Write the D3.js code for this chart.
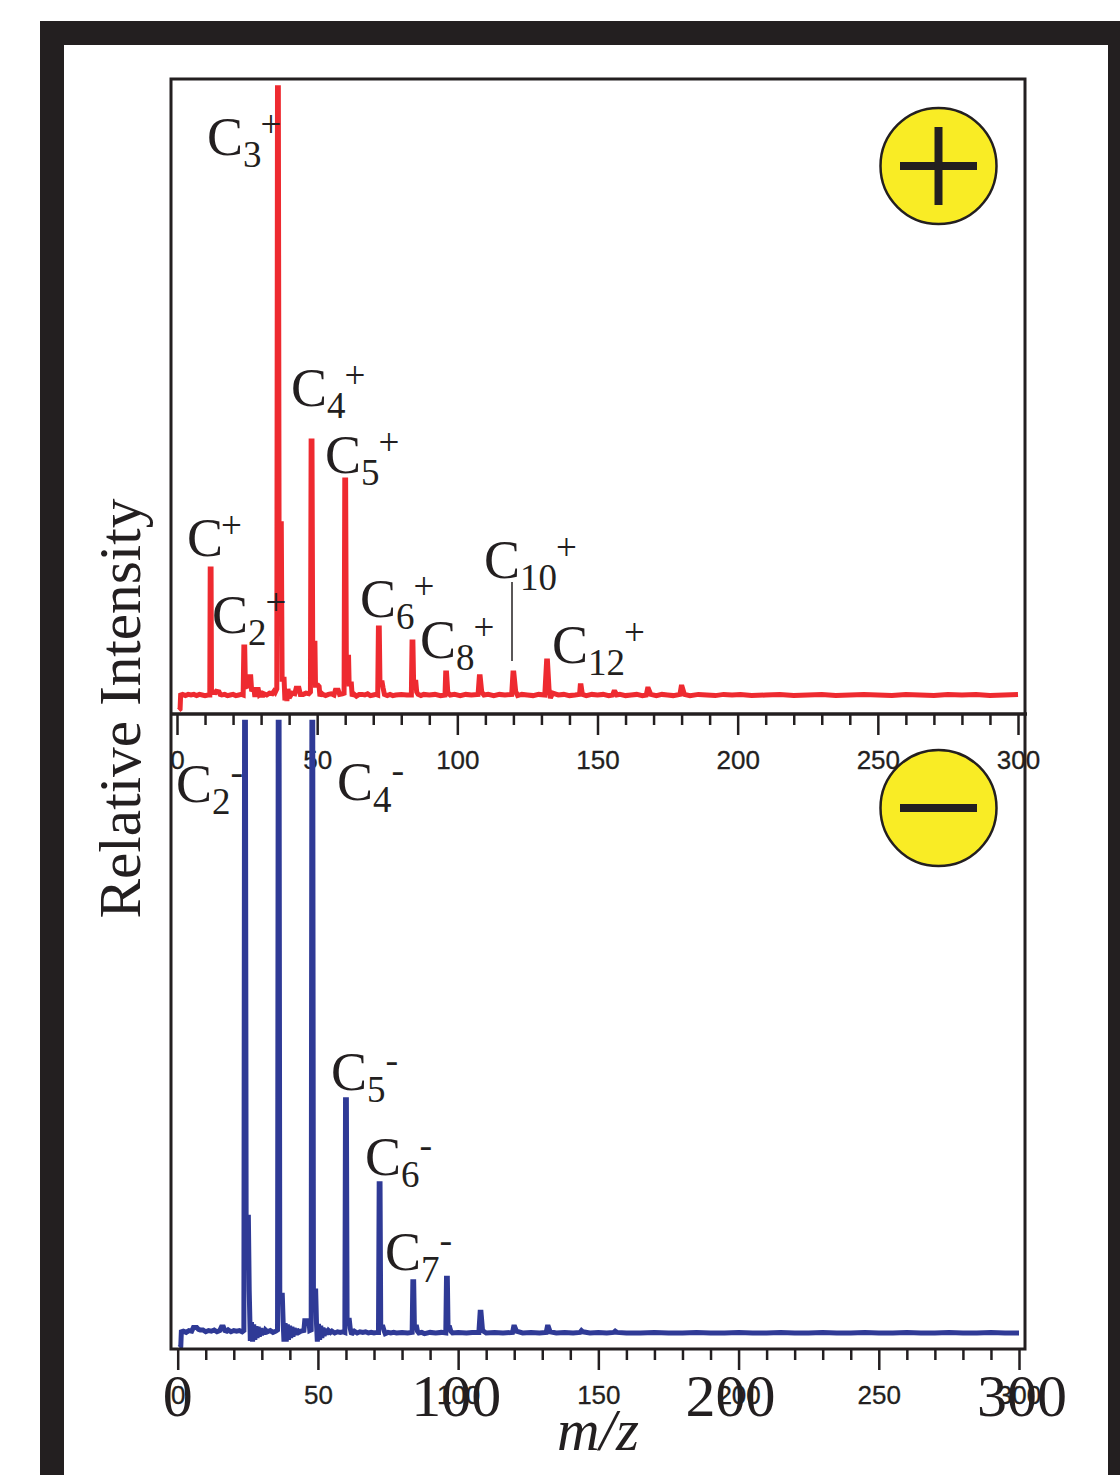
<!DOCTYPE html>
<html lang="en">
  <head>
    <meta charset="utf-8">
    <title>Carbon cluster mass spectra</title>
    <style>
      body { margin: 0; background: #fff; }
      svg { display: block; }
      .tick text { font-family: 'Liberation Sans', sans-serif; font-size: 26px; fill: #231f20; stroke: #231f20; stroke-width: 0.3px; }
      .serif { font-family: 'Liberation Serif', serif; fill: #231f20; }
    </style>
  </head>
  <body>
    <div id="viz"></div>
    <script src="https://d3js.org/d3.v7.min.js"></script>
    <script>
      // positive ion trace: [m/z, relative intensity]
      const posTrace = [
        [0.6,-2.5],[1.1,-2.3],[1.3,0],[2,0.1],[3,-0.1],[4,0.1],[5,0],[6,0.1],[7,-0.1],[8,0.1],[9,0],[10,-0.1],[11,0],[11.7,0],
        [11.85,20.7],[12.15,20.7],[12.3,0.3],[13,0.7],[13.4,0.2],[14,0.6],[15,0.5],[15.4,0.1],[16,0],[17,0.1],[18,-0.1],[19,0],[20,0.1],[21,-0.1],[22,0],[23,0.1],[23.6,0],
        [23.85,7.9],[24.15,7.9],[24.4,1.3],[25.4,1.5],[25.6,3],[26.3,3],[26.6,0.9],[27.5,0.8],[27.8,-0.3],[28.2,0.9],[29,0.9],[29.4,0],[30,0.2],[30.5,-0.3],[31,0.2],[32,0],[33,0.3],[34,0.2],[34.6,0.6],[35,0.4],[35.6,1],
        [35.85,99.7],[36.15,99.7],[36.4,28.1],[37.2,28.1],[37.5,2.6],[38.2,2.6],[38.5,-0.9],[38.9,0.9],[39.2,-1],[39.6,1],[40,-0.5],[41,0.3],[42,0.2],[42.5,1.1],[43.5,1.1],[44,0.1],[45,0.1],[46,0.3],[47,0.2],[47.6,0.5],
        [47.85,41.7],[48.15,41.7],[48.4,8.5],[49.2,8.5],[49.4,1.6],[50.3,1.6],[50.7,1.4],[51,-0.2],[51.5,0.3],[52,0.1],[53,-0.1],[54,0.1],[55,0.2],[56,0],[56.5,0.8],[57.5,0.8],[58,0.1],[59,0.2],[59.6,0.3],
        [59.85,35.3],[60.15,35.3],[60.4,6.2],[61.2,6.2],[61.4,1.8],[62.2,1.8],[62.5,-0.2],[63,0.2],[64,-0.2],[65,0.1],[66,0.1],[67,0],[68,0.2],[69,-0.1],[70,0],[71,0.1],[71.6,0],
        [71.85,11],[72.15,11],[72.4,2],[73.2,2],[73.5,1.2],[74,0.1],[75,-0.1],[76,0.1],[77,-0.1],[78,0],[80,0.1],[82,0],[83.6,0],
        [83.85,8.7],[84.15,8.7],[84.4,2.1],[85.2,2.1],[85.5,0.5],[86,0.1],[87,-0.1],[88,0.1],[90,0],[92,0.1],[94,-0.1],[95.6,0],
        [95.85,3.6],[96.15,3.6],[96.6,0.4],[97.5,0],[99,0.1],[101,-0.1],[103,0.1],[105,0],[107.4,0.1],
        [107.85,3],[108.15,3],[108.7,0.5],[109.5,0],[111,0.1],[113,-0.1],[115,0.1],[117,0],[119.4,0.1],
        [119.85,3.6],[120.15,3.6],[120.8,0.6],[121.5,-0.1],[123,0.1],[125,0],[127,-0.1],[129,0.1],[131.2,0],
        [131.85,5.6],[132.15,5.6],[132.7,1],[133.2,-0.5],[134,0.3],[136,0],[138,0.1],[140,-0.1],[142,0],[143.6,0.1],
        [143.85,1.5],[144.15,1.5],[144.6,0.1],[146,-0.1],[148,0.1],[150,0],[152,0.1],[154,-0.1],[155.4,0],
        [155.8,0.5],[156.3,0.5],[156.9,0],[158,0.1],[160,-0.1],[162,0],[164,0.1],[166,-0.1],[167.4,0],
        [167.85,1],[168.2,1],[169,0.1],[171,-0.1],[173,0.1],[175,0],[177,-0.1],[179.4,0.1],
        [179.85,1.3],[180.2,1.3],[181,0.1],[183,-0.1],[186,0.1],[189,0],[192,-0.1],[195,0.1],[198,0],[201,0.1],[205,-0.1],[210,0],[215,0.1],[220,-0.1],[225,0],[230,0.1],[235,-0.1],[240,0],[245,0.1],[250,0],[255,-0.1],[260,0.1],[265,0],[270,-0.1],[275,0.1],[280,0],[285,0.1],[290,-0.1],[295,0],[300,0.1]
      ];

      // negative ion trace
      const negTrace = [
        [0.6,-2.4],[1.1,-2.2],[1.3,0.2],[2,0.3],[3,0.1],[4,0.4],[5,0.3],[5.6,0.9],[6.8,0.9],[7.4,0.6],[8,0.5],[9,0.5],[10,0.2],[11,0.4],[12,0.3],[13,0.5],[14,0.2],[15,0.4],[15.6,1],[16.3,1],[16.8,0.4],[17.5,0.3],[18,0.5],[19,0.2],[20,0.4],[21,0.3],[22,0.4],[23,0.2],[23.6,0.4],
        [23.85,100.3],[24.15,100.3],[24.4,19],[25.2,19],[25.5,7],[25.9,-1.3],[26.3,1.8],[26.7,-1.4],[27.1,1.4],[27.5,-1.1],[27.9,1.1],[28.3,-0.8],[28.7,1],[29.1,-0.6],[29.5,0.8],[29.9,-0.4],[30.3,0.7],[30.8,-0.2],[31.3,0.5],[32,0.2],[33,0.4],[34,0.1],[35,0.3],[35.6,0.5],
        [35.85,100.3],[36.15,100.3],[36.4,6.2],[37.3,6.2],[37.6,1.8],[37.9,-1.4],[38.3,1.6],[38.7,-1.4],[39.1,1.4],[39.5,-1.1],[39.9,1.2],[40.3,-0.8],[40.7,1],[41.1,-0.6],[41.5,0.8],[42,-0.3],[42.5,0.6],[43.2,0.1],[44,0.3],[45,0.4],[45.3,2],[46.8,2],[47.1,0.4],[47.6,0.5],
        [47.85,100.3],[48.15,100.3],[48.4,6.9],[49.2,6.9],[49.5,1.5],[49.8,-1.4],[50.2,1.5],[50.6,-1.1],[51,1.2],[51.4,-0.8],[51.8,0.9],[52.2,-0.5],[52.7,0.7],[53.2,-0.2],[53.8,0.4],[54.5,0.1],[55,0.3],[56,0],[57,0.2],[58,0.1],[59,0.2],[59.6,0.1],
        [59.85,38.3],[60.15,38.3],[60.4,2.1],[61.2,2.1],[61.5,0.8],[62,-0.2],[63,0.3],[64,0],[65,0.2],[66,0.1],[67,0.2],[68,0],[69,0.1],[70,0],[71,0.1],[71.6,0.1],
        [71.85,24.5],[72.15,24.5],[72.4,1],[73.2,1],[73.5,0.5],[74,-0.1],[75,0.1],[76,0],[77,0.1],[78,0],[80,0.1],[82,0],[83.6,0.1],
        [83.85,8.4],[84.15,8.4],[84.4,1],[85.2,1],[85.5,0.3],[86,0],[87,0.1],[88,-0.1],[90,0.1],[92,0],[94,0.1],[95.6,0],
        [95.85,9],[96.15,9],[96.4,0.9],[97,0.9],[97.4,0.3],[98,0],[100,0.1],[103,0],[105,0.1],[107.4,0.1],
        [107.85,3.4],[108.15,3.4],[108.7,0.4],[110,0],[113,0.1],[116,0],[119.4,0.1],
        [119.8,1],[120.2,1],[120.8,0.3],[123,0],[126,0.1],[129,0],[131.4,0.1],
        [131.8,1],[132.2,1],[132.8,0.2],[135,0],[138,0.1],[141,0],[143.5,0.1],
        [144,0.4],[144.5,0.2],[147,0],[150,0.1],[153,0],[155.5,0.1],
        [156,0.3],[156.6,0.1],[160,0],[165,0],[170,0.1],[175,0],[180,0],[185,0.1],[190,0],[195,0],[200,0.1],[205,0],[210,0],[215,0.1],[220,0],[225,0],[230,0.1],[235,0],[240,0],[245,0.1],[250,0],[255,0],[260,0.1],[265,0],[270,0],[275,0.1],[280,0],[285,0],[290,0.1],[295,0],[300,0]
      ];

      const tickValues = d3.range(0, 301, 10);
      const bigLabels = [0, 100, 200, 300];
      const labelNudge = [0, -2, -8, 3];

      const posSubs = ["3", "4", "5", "", "2", "6", "8", "10", "12"];
      const posAnchors = [[208,155],[292,406],[326,473],[188,556],[213,633],[361,617],[421,658],[485,578],[553,663]];
      const negSubs = ["2", "4", "5", "6", "7"];
      const negAnchors = [[177,802],[338,800],[332,1090],[366,1175],[386,1270]];

      const ink = "#231f20", red = "#ee2a30", blue = "#2f3a96", yellow = "#f9ec25";

      const svg = d3.select("#viz").append("svg").attr("width", 1120).attr("height", 1475);

      const xTop = d3.scaleLinear().domain([0, 300]).range([177, 1018]);
      const xBot = d3.scaleLinear().domain([0, 300]).range([177.7, 1019]);
      const yTop = d3.scaleLinear().domain([0, 100]).range([695, 86]);
      const yBot = d3.scaleLinear().domain([0, 100]).range([1333, 724]);

      function axis(scale, y) {
        const g = svg.append("g")
          .attr("transform", `translate(0,${y})`)
          .call(d3.axisBottom(scale).tickValues(tickValues).tickFormat(d => d % 50 === 0 ? d : ""));
        g.select(".domain").remove();
        g.selectAll(".tick line")
          .attr("y2", d => d % 50 === 0 ? 21 : 11)
          .attr("stroke", ink)
          .attr("stroke-width", 2.5);
        g.selectAll(".tick text").attr("y", 55).attr("dy", 0);
      }
      axis(xTop, 714);
      axis(xBot, 1349);

      // the oversized serif labels sit on top of the small ones, as in the original
      svg.append("g").selectAll("text").data(bigLabels).join("text")
        .attr("class", "serif")
        .attr("x", (d, i) => xBot(d) + labelNudge[i])
        .attr("y", 1416)
        .attr("text-anchor", "middle")
        .attr("font-size", 60)
        .text(d => d);

      function trace(points, x, y, color) {
        const line = d3.line().x(d => x(d[0])).y(d => y(d[1]));
        svg.append("path")
          .attr("d", line(points))
          .attr("fill", "none")
          .attr("stroke", color)
          .attr("stroke-width", 5)
          .attr("stroke-linejoin", "miter")
          .attr("stroke-miterlimit", 2);
      }
      trace(posTrace, xTop, yTop, red);
      trace(negTrace, xBot, yBot, blue);

      // plot box and the shared middle axis
      svg.append("rect").attr("x", 171).attr("y", 79).attr("width", 854).attr("height", 1270)
        .attr("fill", "none").attr("stroke", ink).attr("stroke-width", 3);
      svg.append("line").attr("x1", 170).attr("x2", 1027).attr("y1", 714).attr("y2", 714)
        .attr("stroke", ink).attr("stroke-width", 3.5);

      // thick outer frame, runs off the right and bottom of the page
      svg.append("rect").attr("x", 52).attr("y", 33).attr("width", 1068).attr("height", 1500)
        .attr("fill", "none").attr("stroke", ink).attr("stroke-width", 24);

      // polarity badges
      function badge(cy, plus) {
        svg.append("circle").attr("cx", 938.5).attr("cy", cy).attr("r", 58)
          .attr("fill", yellow).attr("stroke", ink).attr("stroke-width", 2.5);
        svg.append("line").attr("x1", 900).attr("x2", 977).attr("y1", cy).attr("y2", cy)
          .attr("stroke", ink).attr("stroke-width", 8);
        if (plus) {
          svg.append("line").attr("x1", 938.5).attr("x2", 938.5).attr("y1", cy - 39).attr("y2", cy + 39)
            .attr("stroke", ink).attr("stroke-width", 8);
        }
      }
      badge(166, true);
      badge(808, false);

      function ionLabel(sub, pos, sign) {
        const [x, y] = pos;
        const t = (dx, dy, size, str) => svg.append("text").attr("class", "serif")
          .attr("x", x + dx).attr("y", y + dy).attr("font-size", size).text(str);
        t(-1, 0, 54, "C");
        if (sub) t(35, 12, 37, sub);
        const signX = sub ? 34 + sub.length * 18.5 : 33;
        if (sign === "+") t(signX, -18, 37, "+");
        else t(signX + 1, -17, 38, "-");
      }
      posSubs.forEach((s, i) => ionLabel(s, posAnchors[i], "+"));
      negSubs.forEach((s, i) => ionLabel(s, negAnchors[i], "-"));

      // leader for C10+
      svg.append("line").attr("x1", 512).attr("x2", 512).attr("y1", 582).attr("y2", 661)
        .attr("stroke", ink).attr("stroke-width", 1.5);

      svg.append("text").attr("class", "serif")
        .attr("transform", "translate(140,918.5) rotate(-90)")
        .attr("font-size", 59.3)
        .text("Relative Intensity");

      svg.append("text").attr("class", "serif")
        .attr("x", 557).attr("y", 1450)
        .attr("font-size", 59).attr("font-style", "italic")
        .text("m/z");
    </script>
  </body>
</html>
